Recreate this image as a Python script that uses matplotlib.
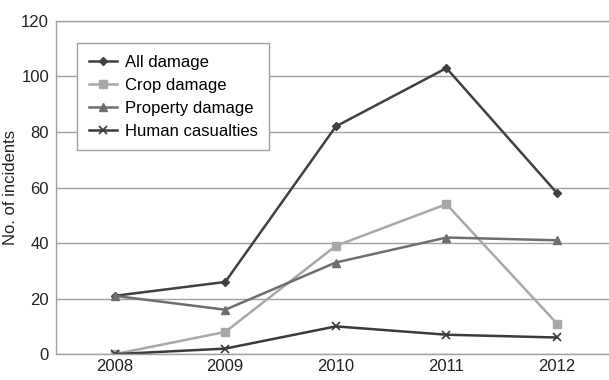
import numpy as np
import matplotlib.pyplot as plt

plt.rcParams['font.family'] = ['Liberation Sans', 'DejaVu Sans']

# Data
years = ['2008', '2009', '2010', '2011', '2012']
all_damage = [21, 26, 82, 103, 58]
crop_damage = [0, 8, 39, 54, 11]
property_damage = [21, 16, 33, 42, 41]
human_casualties = [0, 2, 10, 7, 6]

x = np.arange(len(years))

fig = plt.figure(figsize=(6.09, 3.80), dpi=100)
ax = fig.add_axes([0.092, 0.068, 0.908, 0.877])

ax.plot(x, all_damage, color='#404040', marker='D', markersize=4, linewidth=1.8, label='All damage')
ax.plot(x, crop_damage, color='#a8a8a8', marker='s', markersize=6, linewidth=1.8, label='Crop damage')
ax.plot(x, property_damage, color='#6e6e6e', marker='^', markersize=6, linewidth=1.8, label='Property damage')
ax.plot(x, human_casualties, color='#3a3a3a', marker='x', markersize=6, markeredgewidth=1.2,
        linewidth=1.8, label='Human casualties')

ax.set_xlim(-0.53, 4.47)
ax.set_ylim(0, 120)
ax.set_yticks(range(0, 121, 20))
ax.set_xticks(x)
ax.set_xticklabels(years)
ax.tick_params(length=0, labelsize=12, colors='#222222')
ax.tick_params(axis='y', pad=5)
ax.set_ylabel('No. of incidents', fontsize=12, color='#222222', labelpad=2)

ax.yaxis.grid(True, color='#a0a0a0', linewidth=1)
ax.set_axisbelow(True)
for side in ['left', 'bottom', 'top']:
    ax.spines[side].set_color('#a0a0a0')
    ax.spines[side].set_linewidth(1)
ax.spines['right'].set_visible(False)

leg = ax.legend(loc='upper left', bbox_to_anchor=(0.038, 0.934), borderaxespad=0, fontsize=12,
                fancybox=False, edgecolor='#a0a0a0', handlelength=1.7, handletextpad=0.45,
                borderpad=0.7, labelspacing=0.48, framealpha=1)
leg.get_frame().set_linewidth(1)

fig.savefig('out.png', dpi=100)
